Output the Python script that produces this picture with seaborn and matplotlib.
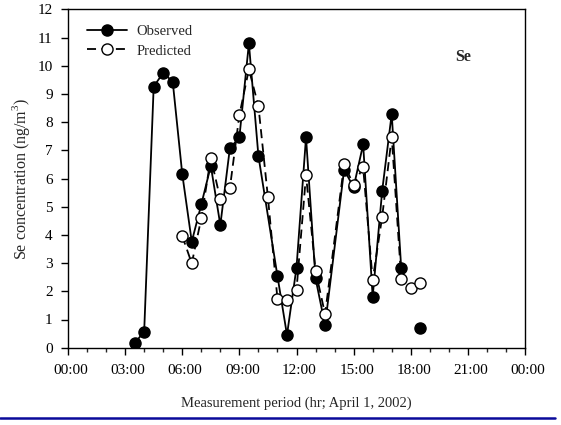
import numpy as np
import pandas as pd
import matplotlib
matplotlib.use("Agg")
import matplotlib.pyplot as plt
from matplotlib.ticker import MultipleLocator, FuncFormatter
from matplotlib.lines import Line2D
import matplotlib.transforms as mtransforms
import seaborn as sns

# ---- data (hours after midnight, April 1, 2002) ----
obs_hours = [3.5, 4.0, 4.5, 5.0, 5.5, 6.0, 6.5, 7.0, 7.5, 8.0, 8.5, 9.0, 9.5, 10.0,
             11.0, 11.5, 12.0, 12.5, 13.0, 13.5,
             14.5, 15.0, 15.5, 16.0, 16.5, 17.0, 17.5,
             18.5]
obs_values = [0.16, 0.57, 9.26, 9.75, 9.43, 6.16, 3.76, 5.08, 6.45, 4.35, 7.07, 7.46, 10.79, 6.80,
              2.54, 0.45, 2.84, 7.46, 2.46, 0.80,
              6.31, 5.69, 7.21, 1.81, 5.57, 8.29, 2.81,
              0.71]
obs_segment = [0] * 27 + [1]

pred_hours = [6.0, 6.5, 7.0, 7.5, 8.0, 8.5, 9.0, 9.5, 10.0, 10.5, 11.0, 11.5, 12.0, 12.5,
              13.0, 13.5, 14.5, 15.0, 15.5, 16.0, 16.5, 17.0, 17.5, 18.0, 18.5]
pred_values = [3.96, 2.99, 4.59, 6.74, 5.26, 5.65, 8.25, 9.87, 8.57, 5.33, 1.73, 1.69, 2.05, 6.12,
               2.73, 1.19, 6.50, 5.77, 6.40, 2.40, 4.65, 7.48, 2.44, 2.13, 2.31]

series_labels = ["Observed", "Predicted"]
panel_label = "Se"

obs_df = pd.DataFrame({"hour": obs_hours, "value": obs_values, "seg": obs_segment})
pred_df = pd.DataFrame({"hour": pred_hours, "value": pred_values, "seg": 0})

sns.set_style("white")
plt.rcParams["font.family"] = ["Liberation Serif", "DejaVu Serif"]
plt.rcParams["mathtext.fontset"] = "custom"
plt.rcParams["mathtext.rm"] = "Liberation Serif"

fig = plt.figure(figsize=(5.61, 4.25), dpi=100)
ax = fig.add_axes([68 / 561, 1 - 347.7 / 425, (525 - 68) / 561, (347.7 - 9.3) / 425])

lw = 1.3
ms = 8
sns.lineplot(data=obs_df, x="hour", y="value", units="seg", estimator=None, sort=False,
             color="black", lw=lw, marker="o", markersize=ms, markerfacecolor="black",
             markeredgecolor="black", markeredgewidth=1.0, ax=ax, legend=False, zorder=3)
sns.lineplot(data=pred_df, x="hour", y="value", units="seg", estimator=None, sort=False,
             color="black", lw=lw, dashes=False, marker="o", markersize=ms,
             markerfacecolor="white", markeredgecolor="black", markeredgewidth=1.0,
             ax=ax, legend=False, zorder=4)
ax.lines[-1].set_linestyle((0, (5, 3)))

ax.set_xlim(0, 24)
ax.set_ylim(0, 12)
ax.xaxis.set_major_locator(MultipleLocator(3))
ax.xaxis.set_minor_locator(MultipleLocator(1))
ax.yaxis.set_major_locator(MultipleLocator(1))
ax.xaxis.set_major_formatter(FuncFormatter(lambda v, p: "%02d:00" % (int(round(v)) % 24)))
ax.tick_params(axis="both", which="major", direction="out", length=5, width=1,
               labelsize=11, colors="black", bottom=True, left=True, top=False, right=False)
ax.tick_params(axis="x", which="major", pad=7)
ax.tick_params(axis="y", which="major", pad=6)
ax.tick_params(axis="x", which="minor", direction="out", length=3, width=1, bottom=True)
shift = mtransforms.ScaledTranslation(3 / 100, 0, fig.dpi_scale_trans)
for lab in ax.get_xticklabels():
    lab.set_transform(lab.get_transform() + shift)
for s in ax.spines.values():
    s.set_color("black")
    s.set_linewidth(1.0)

ax.set_xlabel("Measurement period (hr; April 1, 2002)", fontsize=10.5, labelpad=14)
ax.set_ylabel("Se concentration (ng/m$^3$)", fontsize=11.5, labelpad=4)

ax.text(0.865, 0.86, panel_label, transform=ax.transAxes, fontsize=11.5, fontweight="bold",
        ha="center", va="center")

handles = [
    Line2D([], [], color="black", lw=lw, marker="o", markersize=ms, markerfacecolor="black",
           markeredgecolor="black"),
    Line2D([], [], color="black", lw=lw, ls=(0, (5, 3)), marker="o", markersize=ms,
           markerfacecolor="white", markeredgecolor="black"),
]
ax.legend(handles, series_labels, loc="upper left", bbox_to_anchor=(0.02, 0.985), frameon=False,
          fontsize=10.5, handlelength=2.7, handletextpad=0.65, labelspacing=0.45, borderpad=0.2)

fig.add_artist(Line2D([0.0, 0.99], [1 - 417.5 / 425, 1 - 417.5 / 425], color="#0a0a9a", lw=1.8,
                      transform=fig.transFigure))

fig.savefig("out.png", dpi=100)
